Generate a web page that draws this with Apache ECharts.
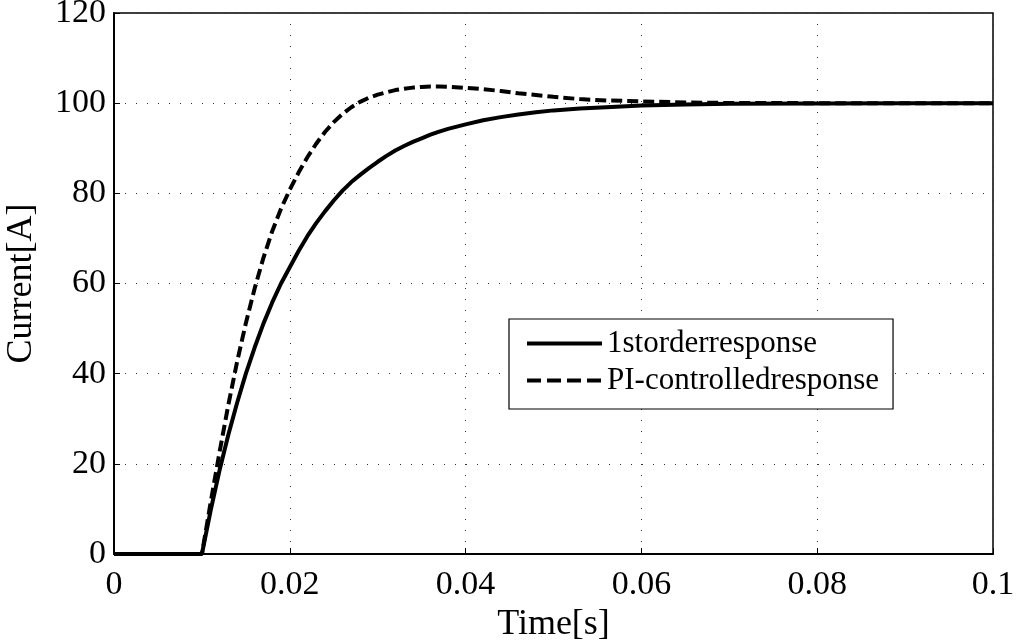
<!DOCTYPE html>
<html>
<head>
<meta charset="utf-8">
<script src="https://cdn.jsdelivr.net/npm/echarts@6/dist/echarts.min.js"></script>
<style>
html,body{margin:0;padding:0;background:#fff;}
#chart{width:1016px;height:641px;}
</style>
</head>
<body>
<div id="chart"></div>
<script>
// Time samples [s]
const time = [0, 0.005, 0.010, 0.011, 0.012, 0.013, 0.014, 0.015, 0.016, 0.017, 0.018, 0.019, 0.020,
  0.021, 0.022, 0.023, 0.024, 0.025, 0.026, 0.027, 0.028, 0.029, 0.030, 0.031, 0.032, 0.033, 0.034,
  0.035, 0.036, 0.037, 0.038, 0.040, 0.042, 0.044, 0.046, 0.048, 0.050, 0.053, 0.056, 0.060,
  0.065, 0.070, 0.080, 0.090, 0.100];
// 1st order response [A]
const firstOrder = [0, 0, 0, 9.7, 18.5, 26.4, 33.5, 40.0, 45.8, 51.1, 55.8, 60.0, 63.6,
  67.2, 70.5, 73.4, 76.0, 78.4, 80.6, 82.5, 84.1, 85.6, 87.0, 88.3, 89.5, 90.5, 91.4,
  92.2, 93.0, 93.7, 94.3, 95.3, 96.2, 96.9, 97.5, 98.0, 98.4, 98.8, 99.1, 99.5,
  99.7, 99.85, 99.95, 100, 100];
// PI-controlled response [A]
const piControlled = [0, 0, 0, 11.5, 22.5, 33.0, 42.6, 51.2, 58.9, 65.7, 71.6, 76.6, 80.8,
  84.6, 88.0, 91.0, 93.6, 95.8, 97.6, 99.1, 100.3, 101.2, 101.9, 102.4, 102.9, 103.2, 103.45,
  103.6, 103.7, 103.7, 103.65, 103.4, 103.1, 102.7, 102.2, 101.8, 101.4, 100.9, 100.6, 100.4,
  100.15, 100.05, 100, 100, 100];
const seriesNames = ['1storderresponse', 'PI-controlledresponse'];
const xTicks = {min: 0, max: 0.1, interval: 0.02};
const yTicks = {min: 0, max: 120, interval: 20};

const FONT = 'Liberation Serif';
const chart = echarts.init(document.getElementById('chart'), null, {renderer: 'canvas'});
const pairs = (ys) => time.map((t, i) => [t, ys[i]]);
const gridLine = {show: true, lineStyle: {color: '#333', width: 1, type: [1, 10]}};

chart.setOption({
  animation: false,
  backgroundColor: '#fff',
  grid: {left: 114, top: 13, right: 23, bottom: 87, show: true, borderColor: '#000', borderWidth: 1.5,
    backgroundColor: 'transparent', containLabel: false, outerBoundsMode: 'none'},
  xAxis: {
    type: 'value', min: xTicks.min, max: xTicks.max, interval: xTicks.interval,
    name: 'Time[s]', nameLocation: 'middle', nameGap: 45,
    nameTextStyle: {fontFamily: FONT, fontSize: 36, color: '#000'},
    axisLine: {show: true, lineStyle: {color: '#000', width: 2}},
    axisTick: {show: true, inside: true, length: 6, lineStyle: {color: '#000', width: 1}},
    axisLabel: {fontFamily: FONT, fontSize: 34, color: '#000', margin: 14,
      formatter: v => String(parseFloat(v.toFixed(4)))},
    splitLine: gridLine
  },
  yAxis: {
    type: 'value', min: yTicks.min, max: yTicks.max, interval: yTicks.interval,
    name: 'Current[A]', nameLocation: 'middle', nameGap: 74, nameRotate: 90,
    nameTextStyle: {fontFamily: FONT, fontSize: 36, color: '#000'},
    axisLine: {show: true, lineStyle: {color: '#000', width: 2}},
    axisTick: {show: true, inside: true, length: 6, lineStyle: {color: '#000', width: 1}},
    axisLabel: {fontFamily: FONT, fontSize: 34, color: '#000', margin: 8},
    splitLine: gridLine
  },
  legend: {
    orient: 'vertical', left: 509, top: 319,
    backgroundColor: '#fff', borderColor: '#000', borderWidth: 1.2,
    padding: [9, 14, 13, 16], itemGap: 6, itemWidth: 75, itemHeight: 14,
    itemStyle: {opacity: 0},
    lineStyle: {width: 4},
    textStyle: {fontFamily: FONT, fontSize: 31, color: '#000', lineHeight: 31},
    data: [
      {name: seriesNames[0], lineStyle: {width: 4, type: 'solid', color: '#000'}},
      {name: seriesNames[1], lineStyle: {width: 4, type: [14, 6], color: '#000'}}
    ]
  },
  series: [
    {name: seriesNames[0], type: 'line', data: pairs(firstOrder), smooth: false, showSymbol: false, symbol: 'none',
      lineStyle: {color: '#000', width: 4, type: 'solid'}, itemStyle: {color: '#000'}},
    {name: seriesNames[1], type: 'line', data: pairs(piControlled), smooth: false, showSymbol: false, symbol: 'none',
      lineStyle: {color: '#000', width: 4, type: [11, 5]}, itemStyle: {color: '#000'}}
  ]
});
</script>
</body>
</html>
